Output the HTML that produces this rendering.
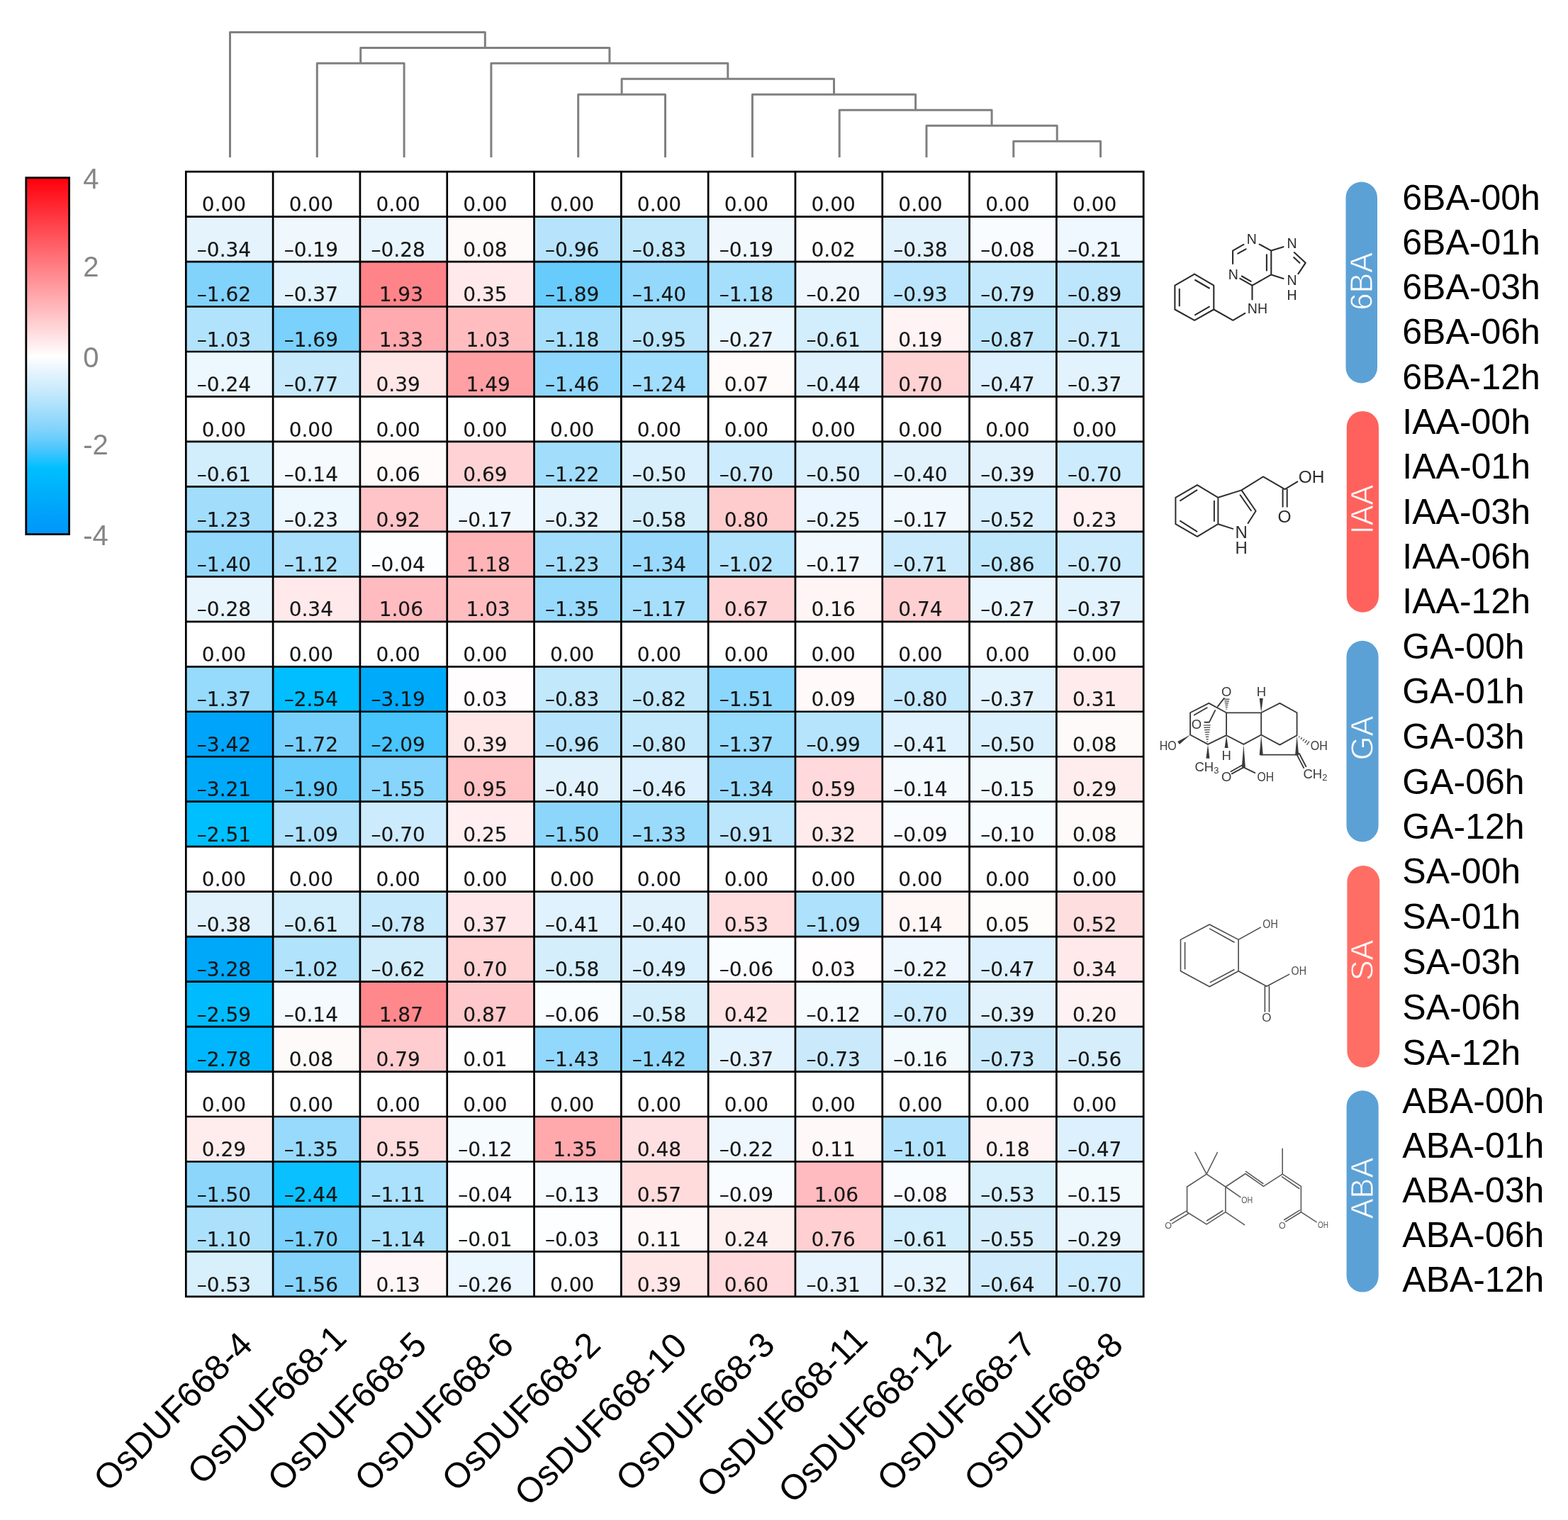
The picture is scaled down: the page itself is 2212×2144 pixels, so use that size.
<!DOCTYPE html><html><head><meta charset="utf-8"><title>OsDUF668 hormone heatmap</title>
<style>html,body{margin:0;padding:0;background:#fff}svg{display:block}.n{font-family:"DejaVu Sans",sans-serif;font-size:28px;fill:#151515;stroke:#151515;stroke-width:0.15px}.l{font-family:"Liberation Sans",Arial,sans-serif}</style></head><body>
<svg width="2212" height="2144" viewBox="0 0 2212 2144">
<rect width="2212" height="2144" fill="#fff"/>
<defs><linearGradient id="cb" gradientUnits="userSpaceOnUse" x1="0" y1="252" x2="0" y2="754.5">
<stop offset="0.0000" stop-color="#ff000c"/>
<stop offset="0.0312" stop-color="#ff101b"/>
<stop offset="0.0625" stop-color="#ff202a"/>
<stop offset="0.0938" stop-color="#ff303a"/>
<stop offset="0.1250" stop-color="#ff4049"/>
<stop offset="0.1562" stop-color="#ff5058"/>
<stop offset="0.1875" stop-color="#ff6067"/>
<stop offset="0.2188" stop-color="#ff7076"/>
<stop offset="0.2500" stop-color="#ff8086"/>
<stop offset="0.2812" stop-color="#ff8f95"/>
<stop offset="0.3125" stop-color="#ff9fa4"/>
<stop offset="0.3438" stop-color="#ffafb3"/>
<stop offset="0.3750" stop-color="#ffbfc2"/>
<stop offset="0.4062" stop-color="#ffcfd1"/>
<stop offset="0.4375" stop-color="#ffdfe1"/>
<stop offset="0.4688" stop-color="#ffeff0"/>
<stop offset="0.5000" stop-color="#ffffff"/>
<stop offset="0.5312" stop-color="#ecf6fe"/>
<stop offset="0.5625" stop-color="#daf0fd"/>
<stop offset="0.5938" stop-color="#c8eafc"/>
<stop offset="0.6250" stop-color="#b4e4fc"/>
<stop offset="0.6562" stop-color="#a0ddfc"/>
<stop offset="0.6875" stop-color="#8cd6fc"/>
<stop offset="0.7188" stop-color="#74d0fc"/>
<stop offset="0.7500" stop-color="#56c8fc"/>
<stop offset="0.7812" stop-color="#2cc3fd"/>
<stop offset="0.8125" stop-color="#00bfff"/>
<stop offset="0.8438" stop-color="#00b8fd"/>
<stop offset="0.8750" stop-color="#00b0fb"/>
<stop offset="0.9062" stop-color="#00a9fa"/>
<stop offset="0.9375" stop-color="#00a2fa"/>
<stop offset="0.9688" stop-color="#009cfa"/>
<stop offset="1.0000" stop-color="#0096fa"/>
</linearGradient></defs>
<rect x="36.8" y="250.7" width="60.8" height="502.9" fill="url(#cb)" stroke="#000" stroke-width="2.8"/>
<text class="l" x="117.3" y="266.4" font-size="40" fill="#858585">4</text>
<text class="l" x="117.3" y="389.9" font-size="40" fill="#858585">2</text>
<text class="l" x="117.3" y="517.6" font-size="40" fill="#858585">0</text>
<text class="l" x="117.3" y="641.2" font-size="40" fill="#858585">-2</text>
<text class="l" x="117.3" y="768.9" font-size="40" fill="#858585">-4</text>
<path d="M1429.8 222.0V199.2H1552.6V222.0M1307.0 222.0V177.2H1491.2V199.2M1184.2 222.0V155.2H1399.1V177.2M1061.4 222.0V133.3H1291.6V155.2M815.7 222.0V133.3H938.5V222.0M877.1 133.3V111.3H1176.5V133.3M692.9 222.0V89.3H1026.8V111.3M447.3 222.0V89.3H570.1V222.0M508.7 89.3V67.4H859.9V89.3M324.5 222.0V45.4H684.3V67.4" fill="none" stroke="#808080" stroke-width="3" stroke-linejoin="round" stroke-linecap="butt"/>
<g>
<rect x="262.30" y="242.10" width="123.11" height="63.77" fill="#ffffff"/>
<rect x="385.11" y="242.10" width="123.11" height="63.77" fill="#ffffff"/>
<rect x="507.92" y="242.10" width="123.11" height="63.77" fill="#ffffff"/>
<rect x="630.73" y="242.10" width="123.11" height="63.77" fill="#ffffff"/>
<rect x="753.54" y="242.10" width="123.11" height="63.77" fill="#ffffff"/>
<rect x="876.35" y="242.10" width="123.11" height="63.77" fill="#ffffff"/>
<rect x="999.15" y="242.10" width="123.11" height="63.77" fill="#ffffff"/>
<rect x="1121.96" y="242.10" width="123.11" height="63.77" fill="#ffffff"/>
<rect x="1244.77" y="242.10" width="123.11" height="63.77" fill="#ffffff"/>
<rect x="1367.58" y="242.10" width="123.11" height="63.77" fill="#ffffff"/>
<rect x="1490.39" y="242.10" width="123.11" height="63.77" fill="#ffffff"/>
<rect x="262.30" y="305.57" width="123.11" height="63.77" fill="#e5f3fd"/>
<rect x="385.11" y="305.57" width="123.11" height="63.77" fill="#f0f8fe"/>
<rect x="507.92" y="305.57" width="123.11" height="63.77" fill="#e9f5fd"/>
<rect x="630.73" y="305.57" width="123.11" height="63.77" fill="#fffafa"/>
<rect x="753.54" y="305.57" width="123.11" height="63.77" fill="#b7e4fc"/>
<rect x="876.35" y="305.57" width="123.11" height="63.77" fill="#c2e8fc"/>
<rect x="999.15" y="305.57" width="123.11" height="63.77" fill="#f0f8fe"/>
<rect x="1121.96" y="305.57" width="123.11" height="63.77" fill="#fffefe"/>
<rect x="1244.77" y="305.57" width="123.11" height="63.77" fill="#e2f2fd"/>
<rect x="1367.58" y="305.57" width="123.11" height="63.77" fill="#f9fcff"/>
<rect x="1490.39" y="305.57" width="123.11" height="63.77" fill="#eff8fe"/>
<rect x="262.30" y="369.04" width="123.11" height="63.77" fill="#81d3fc"/>
<rect x="385.11" y="369.04" width="123.11" height="63.77" fill="#e3f3fd"/>
<rect x="507.92" y="369.04" width="123.11" height="63.77" fill="#ff848a"/>
<rect x="630.73" y="369.04" width="123.11" height="63.77" fill="#ffe9ea"/>
<rect x="753.54" y="369.04" width="123.11" height="63.77" fill="#67ccfc"/>
<rect x="876.35" y="369.04" width="123.11" height="63.77" fill="#94d9fc"/>
<rect x="999.15" y="369.04" width="123.11" height="63.77" fill="#a6dffc"/>
<rect x="1121.96" y="369.04" width="123.11" height="63.77" fill="#f0f8fe"/>
<rect x="1244.77" y="369.04" width="123.11" height="63.77" fill="#bae5fc"/>
<rect x="1367.58" y="369.04" width="123.11" height="63.77" fill="#c5e9fc"/>
<rect x="1490.39" y="369.04" width="123.11" height="63.77" fill="#bde6fc"/>
<rect x="262.30" y="432.52" width="123.11" height="63.77" fill="#b2e3fc"/>
<rect x="385.11" y="432.52" width="123.11" height="63.77" fill="#7ad1fc"/>
<rect x="507.92" y="432.52" width="123.11" height="63.77" fill="#ffaaae"/>
<rect x="630.73" y="432.52" width="123.11" height="63.77" fill="#ffbdc0"/>
<rect x="753.54" y="432.52" width="123.11" height="63.77" fill="#a6dffc"/>
<rect x="876.35" y="432.52" width="123.11" height="63.77" fill="#b8e5fc"/>
<rect x="999.15" y="432.52" width="123.11" height="63.77" fill="#eaf6fd"/>
<rect x="1121.96" y="432.52" width="123.11" height="63.77" fill="#d2edfc"/>
<rect x="1244.77" y="432.52" width="123.11" height="63.77" fill="#fff3f3"/>
<rect x="1367.58" y="432.52" width="123.11" height="63.77" fill="#bee7fc"/>
<rect x="1490.39" y="432.52" width="123.11" height="63.77" fill="#cbebfc"/>
<rect x="262.30" y="495.99" width="123.11" height="63.77" fill="#ecf7fe"/>
<rect x="385.11" y="495.99" width="123.11" height="63.77" fill="#c6e9fc"/>
<rect x="507.92" y="495.99" width="123.11" height="63.77" fill="#ffe6e7"/>
<rect x="630.73" y="495.99" width="123.11" height="63.77" fill="#ffa0a4"/>
<rect x="753.54" y="495.99" width="123.11" height="63.77" fill="#8fd7fc"/>
<rect x="876.35" y="495.99" width="123.11" height="63.77" fill="#a1ddfc"/>
<rect x="999.15" y="495.99" width="123.11" height="63.77" fill="#fffbfb"/>
<rect x="1121.96" y="495.99" width="123.11" height="63.77" fill="#def1fd"/>
<rect x="1244.77" y="495.99" width="123.11" height="63.77" fill="#ffd2d4"/>
<rect x="1367.58" y="495.99" width="123.11" height="63.77" fill="#dcf0fd"/>
<rect x="1490.39" y="495.99" width="123.11" height="63.77" fill="#e3f3fd"/>
<rect x="262.30" y="559.46" width="123.11" height="63.77" fill="#ffffff"/>
<rect x="385.11" y="559.46" width="123.11" height="63.77" fill="#ffffff"/>
<rect x="507.92" y="559.46" width="123.11" height="63.77" fill="#ffffff"/>
<rect x="630.73" y="559.46" width="123.11" height="63.77" fill="#ffffff"/>
<rect x="753.54" y="559.46" width="123.11" height="63.77" fill="#ffffff"/>
<rect x="876.35" y="559.46" width="123.11" height="63.77" fill="#ffffff"/>
<rect x="999.15" y="559.46" width="123.11" height="63.77" fill="#ffffff"/>
<rect x="1121.96" y="559.46" width="123.11" height="63.77" fill="#ffffff"/>
<rect x="1244.77" y="559.46" width="123.11" height="63.77" fill="#ffffff"/>
<rect x="1367.58" y="559.46" width="123.11" height="63.77" fill="#ffffff"/>
<rect x="1490.39" y="559.46" width="123.11" height="63.77" fill="#ffffff"/>
<rect x="262.30" y="622.93" width="123.11" height="63.77" fill="#d2edfc"/>
<rect x="385.11" y="622.93" width="123.11" height="63.77" fill="#f4fafe"/>
<rect x="507.92" y="622.93" width="123.11" height="63.77" fill="#fffbfb"/>
<rect x="630.73" y="622.93" width="123.11" height="63.77" fill="#ffd3d5"/>
<rect x="753.54" y="622.93" width="123.11" height="63.77" fill="#a2defc"/>
<rect x="876.35" y="622.93" width="123.11" height="63.77" fill="#daf0fd"/>
<rect x="999.15" y="622.93" width="123.11" height="63.77" fill="#ccebfc"/>
<rect x="1121.96" y="622.93" width="123.11" height="63.77" fill="#daf0fd"/>
<rect x="1244.77" y="622.93" width="123.11" height="63.77" fill="#e1f2fd"/>
<rect x="1367.58" y="622.93" width="123.11" height="63.77" fill="#e1f2fd"/>
<rect x="1490.39" y="622.93" width="123.11" height="63.77" fill="#ccebfc"/>
<rect x="262.30" y="686.40" width="123.11" height="63.77" fill="#a2ddfc"/>
<rect x="385.11" y="686.40" width="123.11" height="63.77" fill="#edf7fe"/>
<rect x="507.92" y="686.40" width="123.11" height="63.77" fill="#ffc4c7"/>
<rect x="630.73" y="686.40" width="123.11" height="63.77" fill="#f2f9fe"/>
<rect x="753.54" y="686.40" width="123.11" height="63.77" fill="#e6f4fd"/>
<rect x="876.35" y="686.40" width="123.11" height="63.77" fill="#d4eefc"/>
<rect x="999.15" y="686.40" width="123.11" height="63.77" fill="#ffccce"/>
<rect x="1121.96" y="686.40" width="123.11" height="63.77" fill="#ecf6fe"/>
<rect x="1244.77" y="686.40" width="123.11" height="63.77" fill="#f2f9fe"/>
<rect x="1367.58" y="686.40" width="123.11" height="63.77" fill="#d8effd"/>
<rect x="1490.39" y="686.40" width="123.11" height="63.77" fill="#fff0f1"/>
<rect x="262.30" y="749.88" width="123.11" height="63.77" fill="#94d9fc"/>
<rect x="385.11" y="749.88" width="123.11" height="63.77" fill="#aae0fc"/>
<rect x="507.92" y="749.88" width="123.11" height="63.77" fill="#fcfeff"/>
<rect x="630.73" y="749.88" width="123.11" height="63.77" fill="#ffb4b7"/>
<rect x="753.54" y="749.88" width="123.11" height="63.77" fill="#a2ddfc"/>
<rect x="876.35" y="749.88" width="123.11" height="63.77" fill="#99dafc"/>
<rect x="999.15" y="749.88" width="123.11" height="63.77" fill="#b2e3fc"/>
<rect x="1121.96" y="749.88" width="123.11" height="63.77" fill="#f2f9fe"/>
<rect x="1244.77" y="749.88" width="123.11" height="63.77" fill="#cbebfc"/>
<rect x="1367.58" y="749.88" width="123.11" height="63.77" fill="#bfe7fc"/>
<rect x="1490.39" y="749.88" width="123.11" height="63.77" fill="#ccebfc"/>
<rect x="262.30" y="813.35" width="123.11" height="63.77" fill="#e9f5fd"/>
<rect x="385.11" y="813.35" width="123.11" height="63.77" fill="#ffe9ea"/>
<rect x="507.92" y="813.35" width="123.11" height="63.77" fill="#ffbbbf"/>
<rect x="630.73" y="813.35" width="123.11" height="63.77" fill="#ffbdc0"/>
<rect x="753.54" y="813.35" width="123.11" height="63.77" fill="#98dafc"/>
<rect x="876.35" y="813.35" width="123.11" height="63.77" fill="#a6dffc"/>
<rect x="999.15" y="813.35" width="123.11" height="63.77" fill="#ffd4d6"/>
<rect x="1121.96" y="813.35" width="123.11" height="63.77" fill="#fff5f5"/>
<rect x="1244.77" y="813.35" width="123.11" height="63.77" fill="#ffd0d2"/>
<rect x="1367.58" y="813.35" width="123.11" height="63.77" fill="#eaf6fd"/>
<rect x="1490.39" y="813.35" width="123.11" height="63.77" fill="#e3f3fd"/>
<rect x="262.30" y="876.82" width="123.11" height="63.77" fill="#ffffff"/>
<rect x="385.11" y="876.82" width="123.11" height="63.77" fill="#ffffff"/>
<rect x="507.92" y="876.82" width="123.11" height="63.77" fill="#ffffff"/>
<rect x="630.73" y="876.82" width="123.11" height="63.77" fill="#ffffff"/>
<rect x="753.54" y="876.82" width="123.11" height="63.77" fill="#ffffff"/>
<rect x="876.35" y="876.82" width="123.11" height="63.77" fill="#ffffff"/>
<rect x="999.15" y="876.82" width="123.11" height="63.77" fill="#ffffff"/>
<rect x="1121.96" y="876.82" width="123.11" height="63.77" fill="#ffffff"/>
<rect x="1244.77" y="876.82" width="123.11" height="63.77" fill="#ffffff"/>
<rect x="1367.58" y="876.82" width="123.11" height="63.77" fill="#ffffff"/>
<rect x="1490.39" y="876.82" width="123.11" height="63.77" fill="#ffffff"/>
<rect x="262.30" y="940.29" width="123.11" height="63.77" fill="#96dafc"/>
<rect x="385.11" y="940.29" width="123.11" height="63.77" fill="#00beff"/>
<rect x="507.92" y="940.29" width="123.11" height="63.77" fill="#00aafa"/>
<rect x="630.73" y="940.29" width="123.11" height="63.77" fill="#fffdfd"/>
<rect x="753.54" y="940.29" width="123.11" height="63.77" fill="#c2e8fc"/>
<rect x="876.35" y="940.29" width="123.11" height="63.77" fill="#c2e8fc"/>
<rect x="999.15" y="940.29" width="123.11" height="63.77" fill="#8bd6fc"/>
<rect x="1121.96" y="940.29" width="123.11" height="63.77" fill="#fff9fa"/>
<rect x="1244.77" y="940.29" width="123.11" height="63.77" fill="#c4e8fc"/>
<rect x="1367.58" y="940.29" width="123.11" height="63.77" fill="#e3f3fd"/>
<rect x="1490.39" y="940.29" width="123.11" height="63.77" fill="#ffebec"/>
<rect x="262.30" y="1003.76" width="123.11" height="63.77" fill="#00a4fa"/>
<rect x="385.11" y="1003.76" width="123.11" height="63.77" fill="#77d0fc"/>
<rect x="507.92" y="1003.76" width="123.11" height="63.77" fill="#48c5fc"/>
<rect x="630.73" y="1003.76" width="123.11" height="63.77" fill="#ffe6e7"/>
<rect x="753.54" y="1003.76" width="123.11" height="63.77" fill="#b7e4fc"/>
<rect x="876.35" y="1003.76" width="123.11" height="63.77" fill="#c4e8fc"/>
<rect x="999.15" y="1003.76" width="123.11" height="63.77" fill="#96dafc"/>
<rect x="1121.96" y="1003.76" width="123.11" height="63.77" fill="#b5e4fc"/>
<rect x="1244.77" y="1003.76" width="123.11" height="63.77" fill="#e0f2fd"/>
<rect x="1367.58" y="1003.76" width="123.11" height="63.77" fill="#daf0fd"/>
<rect x="1490.39" y="1003.76" width="123.11" height="63.77" fill="#fffafa"/>
<rect x="262.30" y="1067.24" width="123.11" height="63.77" fill="#00aafa"/>
<rect x="385.11" y="1067.24" width="123.11" height="63.77" fill="#66ccfc"/>
<rect x="507.92" y="1067.24" width="123.11" height="63.77" fill="#87d5fc"/>
<rect x="630.73" y="1067.24" width="123.11" height="63.77" fill="#ffc2c5"/>
<rect x="753.54" y="1067.24" width="123.11" height="63.77" fill="#e1f2fd"/>
<rect x="876.35" y="1067.24" width="123.11" height="63.77" fill="#dcf0fd"/>
<rect x="999.15" y="1067.24" width="123.11" height="63.77" fill="#99dafc"/>
<rect x="1121.96" y="1067.24" width="123.11" height="63.77" fill="#ffd9db"/>
<rect x="1244.77" y="1067.24" width="123.11" height="63.77" fill="#f4fafe"/>
<rect x="1367.58" y="1067.24" width="123.11" height="63.77" fill="#f3fafe"/>
<rect x="1490.39" y="1067.24" width="123.11" height="63.77" fill="#ffeded"/>
<rect x="262.30" y="1130.71" width="123.11" height="63.77" fill="#00bfff"/>
<rect x="385.11" y="1130.71" width="123.11" height="63.77" fill="#ade1fc"/>
<rect x="507.92" y="1130.71" width="123.11" height="63.77" fill="#ccebfc"/>
<rect x="630.73" y="1130.71" width="123.11" height="63.77" fill="#ffeff0"/>
<rect x="753.54" y="1130.71" width="123.11" height="63.77" fill="#8cd6fc"/>
<rect x="876.35" y="1130.71" width="123.11" height="63.77" fill="#9adbfc"/>
<rect x="999.15" y="1130.71" width="123.11" height="63.77" fill="#bbe6fc"/>
<rect x="1121.96" y="1130.71" width="123.11" height="63.77" fill="#ffebec"/>
<rect x="1244.77" y="1130.71" width="123.11" height="63.77" fill="#f8fcfe"/>
<rect x="1367.58" y="1130.71" width="123.11" height="63.77" fill="#f7fcfe"/>
<rect x="1490.39" y="1130.71" width="123.11" height="63.77" fill="#fffafa"/>
<rect x="262.30" y="1194.18" width="123.11" height="63.77" fill="#ffffff"/>
<rect x="385.11" y="1194.18" width="123.11" height="63.77" fill="#ffffff"/>
<rect x="507.92" y="1194.18" width="123.11" height="63.77" fill="#ffffff"/>
<rect x="630.73" y="1194.18" width="123.11" height="63.77" fill="#ffffff"/>
<rect x="753.54" y="1194.18" width="123.11" height="63.77" fill="#ffffff"/>
<rect x="876.35" y="1194.18" width="123.11" height="63.77" fill="#ffffff"/>
<rect x="999.15" y="1194.18" width="123.11" height="63.77" fill="#ffffff"/>
<rect x="1121.96" y="1194.18" width="123.11" height="63.77" fill="#ffffff"/>
<rect x="1244.77" y="1194.18" width="123.11" height="63.77" fill="#ffffff"/>
<rect x="1367.58" y="1194.18" width="123.11" height="63.77" fill="#ffffff"/>
<rect x="1490.39" y="1194.18" width="123.11" height="63.77" fill="#ffffff"/>
<rect x="262.30" y="1257.65" width="123.11" height="63.77" fill="#e2f2fd"/>
<rect x="385.11" y="1257.65" width="123.11" height="63.77" fill="#d2edfc"/>
<rect x="507.92" y="1257.65" width="123.11" height="63.77" fill="#c6e9fc"/>
<rect x="630.73" y="1257.65" width="123.11" height="63.77" fill="#ffe7e9"/>
<rect x="753.54" y="1257.65" width="123.11" height="63.77" fill="#e0f2fd"/>
<rect x="876.35" y="1257.65" width="123.11" height="63.77" fill="#e1f2fd"/>
<rect x="999.15" y="1257.65" width="123.11" height="63.77" fill="#ffdddf"/>
<rect x="1121.96" y="1257.65" width="123.11" height="63.77" fill="#ade1fc"/>
<rect x="1244.77" y="1257.65" width="123.11" height="63.77" fill="#fff6f6"/>
<rect x="1367.58" y="1257.65" width="123.11" height="63.77" fill="#fffcfc"/>
<rect x="1490.39" y="1257.65" width="123.11" height="63.77" fill="#ffdedf"/>
<rect x="262.30" y="1321.12" width="123.11" height="63.77" fill="#00a8fa"/>
<rect x="385.11" y="1321.12" width="123.11" height="63.77" fill="#b2e3fc"/>
<rect x="507.92" y="1321.12" width="123.11" height="63.77" fill="#d1edfc"/>
<rect x="630.73" y="1321.12" width="123.11" height="63.77" fill="#ffd2d4"/>
<rect x="753.54" y="1321.12" width="123.11" height="63.77" fill="#d4eefc"/>
<rect x="876.35" y="1321.12" width="123.11" height="63.77" fill="#daf0fd"/>
<rect x="999.15" y="1321.12" width="123.11" height="63.77" fill="#fafdff"/>
<rect x="1121.96" y="1321.12" width="123.11" height="63.77" fill="#fffdfd"/>
<rect x="1244.77" y="1321.12" width="123.11" height="63.77" fill="#eef7fe"/>
<rect x="1367.58" y="1321.12" width="123.11" height="63.77" fill="#dcf0fd"/>
<rect x="1490.39" y="1321.12" width="123.11" height="63.77" fill="#ffe9ea"/>
<rect x="262.30" y="1384.60" width="123.11" height="63.77" fill="#00bcfe"/>
<rect x="385.11" y="1384.60" width="123.11" height="63.77" fill="#f4fafe"/>
<rect x="507.92" y="1384.60" width="123.11" height="63.77" fill="#ff888d"/>
<rect x="630.73" y="1384.60" width="123.11" height="63.77" fill="#ffc8ca"/>
<rect x="753.54" y="1384.60" width="123.11" height="63.77" fill="#fafdff"/>
<rect x="876.35" y="1384.60" width="123.11" height="63.77" fill="#d4eefc"/>
<rect x="999.15" y="1384.60" width="123.11" height="63.77" fill="#ffe4e5"/>
<rect x="1121.96" y="1384.60" width="123.11" height="63.77" fill="#f6fbfe"/>
<rect x="1244.77" y="1384.60" width="123.11" height="63.77" fill="#ccebfc"/>
<rect x="1367.58" y="1384.60" width="123.11" height="63.77" fill="#e1f2fd"/>
<rect x="1490.39" y="1384.60" width="123.11" height="63.77" fill="#fff2f3"/>
<rect x="262.30" y="1448.07" width="123.11" height="63.77" fill="#00b7fd"/>
<rect x="385.11" y="1448.07" width="123.11" height="63.77" fill="#fffafa"/>
<rect x="507.92" y="1448.07" width="123.11" height="63.77" fill="#ffcdcf"/>
<rect x="630.73" y="1448.07" width="123.11" height="63.77" fill="#fffefe"/>
<rect x="753.54" y="1448.07" width="123.11" height="63.77" fill="#92d8fc"/>
<rect x="876.35" y="1448.07" width="123.11" height="63.77" fill="#92d8fc"/>
<rect x="999.15" y="1448.07" width="123.11" height="63.77" fill="#e3f3fd"/>
<rect x="1121.96" y="1448.07" width="123.11" height="63.77" fill="#caeafc"/>
<rect x="1244.77" y="1448.07" width="123.11" height="63.77" fill="#f3fafe"/>
<rect x="1367.58" y="1448.07" width="123.11" height="63.77" fill="#caeafc"/>
<rect x="1490.39" y="1448.07" width="123.11" height="63.77" fill="#d6eefc"/>
<rect x="262.30" y="1511.54" width="123.11" height="63.77" fill="#ffffff"/>
<rect x="385.11" y="1511.54" width="123.11" height="63.77" fill="#ffffff"/>
<rect x="507.92" y="1511.54" width="123.11" height="63.77" fill="#ffffff"/>
<rect x="630.73" y="1511.54" width="123.11" height="63.77" fill="#ffffff"/>
<rect x="753.54" y="1511.54" width="123.11" height="63.77" fill="#ffffff"/>
<rect x="876.35" y="1511.54" width="123.11" height="63.77" fill="#ffffff"/>
<rect x="999.15" y="1511.54" width="123.11" height="63.77" fill="#ffffff"/>
<rect x="1121.96" y="1511.54" width="123.11" height="63.77" fill="#ffffff"/>
<rect x="1244.77" y="1511.54" width="123.11" height="63.77" fill="#ffffff"/>
<rect x="1367.58" y="1511.54" width="123.11" height="63.77" fill="#ffffff"/>
<rect x="1490.39" y="1511.54" width="123.11" height="63.77" fill="#ffffff"/>
<rect x="262.30" y="1575.01" width="123.11" height="63.77" fill="#ffeded"/>
<rect x="385.11" y="1575.01" width="123.11" height="63.77" fill="#98dafc"/>
<rect x="507.92" y="1575.01" width="123.11" height="63.77" fill="#ffdcde"/>
<rect x="630.73" y="1575.01" width="123.11" height="63.77" fill="#f6fbfe"/>
<rect x="753.54" y="1575.01" width="123.11" height="63.77" fill="#ffa9ad"/>
<rect x="876.35" y="1575.01" width="123.11" height="63.77" fill="#ffe0e2"/>
<rect x="999.15" y="1575.01" width="123.11" height="63.77" fill="#eef7fe"/>
<rect x="1121.96" y="1575.01" width="123.11" height="63.77" fill="#fff8f8"/>
<rect x="1244.77" y="1575.01" width="123.11" height="63.77" fill="#b3e3fc"/>
<rect x="1367.58" y="1575.01" width="123.11" height="63.77" fill="#fff4f4"/>
<rect x="1490.39" y="1575.01" width="123.11" height="63.77" fill="#dcf0fd"/>
<rect x="262.30" y="1638.48" width="123.11" height="63.77" fill="#8cd6fc"/>
<rect x="385.11" y="1638.48" width="123.11" height="63.77" fill="#0bc0ff"/>
<rect x="507.92" y="1638.48" width="123.11" height="63.77" fill="#abe1fc"/>
<rect x="630.73" y="1638.48" width="123.11" height="63.77" fill="#fcfeff"/>
<rect x="753.54" y="1638.48" width="123.11" height="63.77" fill="#f5fbfe"/>
<rect x="876.35" y="1638.48" width="123.11" height="63.77" fill="#ffdbdc"/>
<rect x="999.15" y="1638.48" width="123.11" height="63.77" fill="#f8fcfe"/>
<rect x="1121.96" y="1638.48" width="123.11" height="63.77" fill="#ffbbbf"/>
<rect x="1244.77" y="1638.48" width="123.11" height="63.77" fill="#f9fcff"/>
<rect x="1367.58" y="1638.48" width="123.11" height="63.77" fill="#d8effc"/>
<rect x="1490.39" y="1638.48" width="123.11" height="63.77" fill="#f3fafe"/>
<rect x="262.30" y="1701.96" width="123.11" height="63.77" fill="#ace1fc"/>
<rect x="385.11" y="1701.96" width="123.11" height="63.77" fill="#79d1fc"/>
<rect x="507.92" y="1701.96" width="123.11" height="63.77" fill="#a9e0fc"/>
<rect x="630.73" y="1701.96" width="123.11" height="63.77" fill="#feffff"/>
<rect x="753.54" y="1701.96" width="123.11" height="63.77" fill="#fdfeff"/>
<rect x="876.35" y="1701.96" width="123.11" height="63.77" fill="#fff8f8"/>
<rect x="999.15" y="1701.96" width="123.11" height="63.77" fill="#fff0f0"/>
<rect x="1121.96" y="1701.96" width="123.11" height="63.77" fill="#ffcfd1"/>
<rect x="1244.77" y="1701.96" width="123.11" height="63.77" fill="#d2edfc"/>
<rect x="1367.58" y="1701.96" width="123.11" height="63.77" fill="#d6eefc"/>
<rect x="1490.39" y="1701.96" width="123.11" height="63.77" fill="#e9f5fd"/>
<rect x="262.30" y="1765.43" width="123.11" height="63.77" fill="#d8effc"/>
<rect x="385.11" y="1765.43" width="123.11" height="63.77" fill="#86d4fc"/>
<rect x="507.92" y="1765.43" width="123.11" height="63.77" fill="#fff7f7"/>
<rect x="630.73" y="1765.43" width="123.11" height="63.77" fill="#ebf6fe"/>
<rect x="753.54" y="1765.43" width="123.11" height="63.77" fill="#ffffff"/>
<rect x="876.35" y="1765.43" width="123.11" height="63.77" fill="#ffe6e7"/>
<rect x="999.15" y="1765.43" width="123.11" height="63.77" fill="#ffd9db"/>
<rect x="1121.96" y="1765.43" width="123.11" height="63.77" fill="#e7f4fd"/>
<rect x="1244.77" y="1765.43" width="123.11" height="63.77" fill="#e6f4fd"/>
<rect x="1367.58" y="1765.43" width="123.11" height="63.77" fill="#d0ecfc"/>
<rect x="1490.39" y="1765.43" width="123.11" height="63.77" fill="#ccebfc"/>
</g><g class="n" text-anchor="middle">
<text x="316.0" y="298.2">0.00</text>
<text x="438.8" y="298.2">0.00</text>
<text x="561.6" y="298.2">0.00</text>
<text x="684.4" y="298.2">0.00</text>
<text x="807.2" y="298.2">0.00</text>
<text x="930.0" y="298.2">0.00</text>
<text x="1052.9" y="298.2">0.00</text>
<text x="1175.7" y="298.2">0.00</text>
<text x="1298.5" y="298.2">0.00</text>
<text x="1421.3" y="298.2">0.00</text>
<text x="1544.1" y="298.2">0.00</text>
<text x="316.0" y="361.6">–0.34</text>
<text x="438.8" y="361.6">–0.19</text>
<text x="561.6" y="361.6">–0.28</text>
<text x="684.4" y="361.6">0.08</text>
<text x="807.2" y="361.6">–0.96</text>
<text x="930.0" y="361.6">–0.83</text>
<text x="1052.9" y="361.6">–0.19</text>
<text x="1175.7" y="361.6">0.02</text>
<text x="1298.5" y="361.6">–0.38</text>
<text x="1421.3" y="361.6">–0.08</text>
<text x="1544.1" y="361.6">–0.21</text>
<text x="316.0" y="425.1">–1.62</text>
<text x="438.8" y="425.1">–0.37</text>
<text x="565.8" y="425.1">1.93</text>
<text x="684.4" y="425.1">0.35</text>
<text x="807.2" y="425.1">–1.89</text>
<text x="930.0" y="425.1">–1.40</text>
<text x="1052.9" y="425.1">–1.18</text>
<text x="1175.7" y="425.1">–0.20</text>
<text x="1298.5" y="425.1">–0.93</text>
<text x="1421.3" y="425.1">–0.79</text>
<text x="1544.1" y="425.1">–0.89</text>
<text x="316.0" y="488.6">–1.03</text>
<text x="438.8" y="488.6">–1.69</text>
<text x="565.8" y="488.6">1.33</text>
<text x="688.6" y="488.6">1.03</text>
<text x="807.2" y="488.6">–1.18</text>
<text x="930.0" y="488.6">–0.95</text>
<text x="1052.9" y="488.6">–0.27</text>
<text x="1175.7" y="488.6">–0.61</text>
<text x="1298.5" y="488.6">0.19</text>
<text x="1421.3" y="488.6">–0.87</text>
<text x="1544.1" y="488.6">–0.71</text>
<text x="316.0" y="552.1">–0.24</text>
<text x="438.8" y="552.1">–0.77</text>
<text x="561.6" y="552.1">0.39</text>
<text x="688.6" y="552.1">1.49</text>
<text x="807.2" y="552.1">–1.46</text>
<text x="930.0" y="552.1">–1.24</text>
<text x="1052.9" y="552.1">0.07</text>
<text x="1175.7" y="552.1">–0.44</text>
<text x="1298.5" y="552.1">0.70</text>
<text x="1421.3" y="552.1">–0.47</text>
<text x="1544.1" y="552.1">–0.37</text>
<text x="316.0" y="615.5">0.00</text>
<text x="438.8" y="615.5">0.00</text>
<text x="561.6" y="615.5">0.00</text>
<text x="684.4" y="615.5">0.00</text>
<text x="807.2" y="615.5">0.00</text>
<text x="930.0" y="615.5">0.00</text>
<text x="1052.9" y="615.5">0.00</text>
<text x="1175.7" y="615.5">0.00</text>
<text x="1298.5" y="615.5">0.00</text>
<text x="1421.3" y="615.5">0.00</text>
<text x="1544.1" y="615.5">0.00</text>
<text x="316.0" y="679.0">–0.61</text>
<text x="438.8" y="679.0">–0.14</text>
<text x="561.6" y="679.0">0.06</text>
<text x="684.4" y="679.0">0.69</text>
<text x="807.2" y="679.0">–1.22</text>
<text x="930.0" y="679.0">–0.50</text>
<text x="1052.9" y="679.0">–0.70</text>
<text x="1175.7" y="679.0">–0.50</text>
<text x="1298.5" y="679.0">–0.40</text>
<text x="1421.3" y="679.0">–0.39</text>
<text x="1544.1" y="679.0">–0.70</text>
<text x="316.0" y="742.5">–1.23</text>
<text x="438.8" y="742.5">–0.23</text>
<text x="561.6" y="742.5">0.92</text>
<text x="684.4" y="742.5">–0.17</text>
<text x="807.2" y="742.5">–0.32</text>
<text x="930.0" y="742.5">–0.58</text>
<text x="1052.9" y="742.5">0.80</text>
<text x="1175.7" y="742.5">–0.25</text>
<text x="1298.5" y="742.5">–0.17</text>
<text x="1421.3" y="742.5">–0.52</text>
<text x="1544.1" y="742.5">0.23</text>
<text x="316.0" y="805.9">–1.40</text>
<text x="438.8" y="805.9">–1.12</text>
<text x="561.6" y="805.9">–0.04</text>
<text x="688.6" y="805.9">1.18</text>
<text x="807.2" y="805.9">–1.23</text>
<text x="930.0" y="805.9">–1.34</text>
<text x="1052.9" y="805.9">–1.02</text>
<text x="1175.7" y="805.9">–0.17</text>
<text x="1298.5" y="805.9">–0.71</text>
<text x="1421.3" y="805.9">–0.86</text>
<text x="1544.1" y="805.9">–0.70</text>
<text x="316.0" y="869.4">–0.28</text>
<text x="438.8" y="869.4">0.34</text>
<text x="565.8" y="869.4">1.06</text>
<text x="688.6" y="869.4">1.03</text>
<text x="807.2" y="869.4">–1.35</text>
<text x="930.0" y="869.4">–1.17</text>
<text x="1052.9" y="869.4">0.67</text>
<text x="1175.7" y="869.4">0.16</text>
<text x="1298.5" y="869.4">0.74</text>
<text x="1421.3" y="869.4">–0.27</text>
<text x="1544.1" y="869.4">–0.37</text>
<text x="316.0" y="932.9">0.00</text>
<text x="438.8" y="932.9">0.00</text>
<text x="561.6" y="932.9">0.00</text>
<text x="684.4" y="932.9">0.00</text>
<text x="807.2" y="932.9">0.00</text>
<text x="930.0" y="932.9">0.00</text>
<text x="1052.9" y="932.9">0.00</text>
<text x="1175.7" y="932.9">0.00</text>
<text x="1298.5" y="932.9">0.00</text>
<text x="1421.3" y="932.9">0.00</text>
<text x="1544.1" y="932.9">0.00</text>
<text x="316.0" y="996.4">–1.37</text>
<text x="438.8" y="996.4">–2.54</text>
<text x="561.6" y="996.4">–3.19</text>
<text x="684.4" y="996.4">0.03</text>
<text x="807.2" y="996.4">–0.83</text>
<text x="930.0" y="996.4">–0.82</text>
<text x="1052.9" y="996.4">–1.51</text>
<text x="1175.7" y="996.4">0.09</text>
<text x="1298.5" y="996.4">–0.80</text>
<text x="1421.3" y="996.4">–0.37</text>
<text x="1544.1" y="996.4">0.31</text>
<text x="316.0" y="1059.8">–3.42</text>
<text x="438.8" y="1059.8">–1.72</text>
<text x="561.6" y="1059.8">–2.09</text>
<text x="684.4" y="1059.8">0.39</text>
<text x="807.2" y="1059.8">–0.96</text>
<text x="930.0" y="1059.8">–0.80</text>
<text x="1052.9" y="1059.8">–1.37</text>
<text x="1175.7" y="1059.8">–0.99</text>
<text x="1298.5" y="1059.8">–0.41</text>
<text x="1421.3" y="1059.8">–0.50</text>
<text x="1544.1" y="1059.8">0.08</text>
<text x="316.0" y="1123.3">–3.21</text>
<text x="438.8" y="1123.3">–1.90</text>
<text x="561.6" y="1123.3">–1.55</text>
<text x="684.4" y="1123.3">0.95</text>
<text x="807.2" y="1123.3">–0.40</text>
<text x="930.0" y="1123.3">–0.46</text>
<text x="1052.9" y="1123.3">–1.34</text>
<text x="1175.7" y="1123.3">0.59</text>
<text x="1298.5" y="1123.3">–0.14</text>
<text x="1421.3" y="1123.3">–0.15</text>
<text x="1544.1" y="1123.3">0.29</text>
<text x="316.0" y="1186.8">–2.51</text>
<text x="438.8" y="1186.8">–1.09</text>
<text x="561.6" y="1186.8">–0.70</text>
<text x="684.4" y="1186.8">0.25</text>
<text x="807.2" y="1186.8">–1.50</text>
<text x="930.0" y="1186.8">–1.33</text>
<text x="1052.9" y="1186.8">–0.91</text>
<text x="1175.7" y="1186.8">0.32</text>
<text x="1298.5" y="1186.8">–0.09</text>
<text x="1421.3" y="1186.8">–0.10</text>
<text x="1544.1" y="1186.8">0.08</text>
<text x="316.0" y="1250.3">0.00</text>
<text x="438.8" y="1250.3">0.00</text>
<text x="561.6" y="1250.3">0.00</text>
<text x="684.4" y="1250.3">0.00</text>
<text x="807.2" y="1250.3">0.00</text>
<text x="930.0" y="1250.3">0.00</text>
<text x="1052.9" y="1250.3">0.00</text>
<text x="1175.7" y="1250.3">0.00</text>
<text x="1298.5" y="1250.3">0.00</text>
<text x="1421.3" y="1250.3">0.00</text>
<text x="1544.1" y="1250.3">0.00</text>
<text x="316.0" y="1313.7">–0.38</text>
<text x="438.8" y="1313.7">–0.61</text>
<text x="561.6" y="1313.7">–0.78</text>
<text x="684.4" y="1313.7">0.37</text>
<text x="807.2" y="1313.7">–0.41</text>
<text x="930.0" y="1313.7">–0.40</text>
<text x="1052.9" y="1313.7">0.53</text>
<text x="1175.7" y="1313.7">–1.09</text>
<text x="1298.5" y="1313.7">0.14</text>
<text x="1421.3" y="1313.7">0.05</text>
<text x="1544.1" y="1313.7">0.52</text>
<text x="316.0" y="1377.2">–3.28</text>
<text x="438.8" y="1377.2">–1.02</text>
<text x="561.6" y="1377.2">–0.62</text>
<text x="684.4" y="1377.2">0.70</text>
<text x="807.2" y="1377.2">–0.58</text>
<text x="930.0" y="1377.2">–0.49</text>
<text x="1052.9" y="1377.2">–0.06</text>
<text x="1175.7" y="1377.2">0.03</text>
<text x="1298.5" y="1377.2">–0.22</text>
<text x="1421.3" y="1377.2">–0.47</text>
<text x="1544.1" y="1377.2">0.34</text>
<text x="316.0" y="1440.7">–2.59</text>
<text x="438.8" y="1440.7">–0.14</text>
<text x="565.8" y="1440.7">1.87</text>
<text x="684.4" y="1440.7">0.87</text>
<text x="807.2" y="1440.7">–0.06</text>
<text x="930.0" y="1440.7">–0.58</text>
<text x="1052.9" y="1440.7">0.42</text>
<text x="1175.7" y="1440.7">–0.12</text>
<text x="1298.5" y="1440.7">–0.70</text>
<text x="1421.3" y="1440.7">–0.39</text>
<text x="1544.1" y="1440.7">0.20</text>
<text x="316.0" y="1504.1">–2.78</text>
<text x="438.8" y="1504.1">0.08</text>
<text x="561.6" y="1504.1">0.79</text>
<text x="684.4" y="1504.1">0.01</text>
<text x="807.2" y="1504.1">–1.43</text>
<text x="930.0" y="1504.1">–1.42</text>
<text x="1052.9" y="1504.1">–0.37</text>
<text x="1175.7" y="1504.1">–0.73</text>
<text x="1298.5" y="1504.1">–0.16</text>
<text x="1421.3" y="1504.1">–0.73</text>
<text x="1544.1" y="1504.1">–0.56</text>
<text x="316.0" y="1567.6">0.00</text>
<text x="438.8" y="1567.6">0.00</text>
<text x="561.6" y="1567.6">0.00</text>
<text x="684.4" y="1567.6">0.00</text>
<text x="807.2" y="1567.6">0.00</text>
<text x="930.0" y="1567.6">0.00</text>
<text x="1052.9" y="1567.6">0.00</text>
<text x="1175.7" y="1567.6">0.00</text>
<text x="1298.5" y="1567.6">0.00</text>
<text x="1421.3" y="1567.6">0.00</text>
<text x="1544.1" y="1567.6">0.00</text>
<text x="316.0" y="1631.1">0.29</text>
<text x="438.8" y="1631.1">–1.35</text>
<text x="561.6" y="1631.1">0.55</text>
<text x="684.4" y="1631.1">–0.12</text>
<text x="811.4" y="1631.1">1.35</text>
<text x="930.0" y="1631.1">0.48</text>
<text x="1052.9" y="1631.1">–0.22</text>
<text x="1175.7" y="1631.1">0.11</text>
<text x="1298.5" y="1631.1">–1.01</text>
<text x="1421.3" y="1631.1">0.18</text>
<text x="1544.1" y="1631.1">–0.47</text>
<text x="316.0" y="1694.6">–1.50</text>
<text x="438.8" y="1694.6">–2.44</text>
<text x="561.6" y="1694.6">–1.11</text>
<text x="684.4" y="1694.6">–0.04</text>
<text x="807.2" y="1694.6">–0.13</text>
<text x="930.0" y="1694.6">0.57</text>
<text x="1052.9" y="1694.6">–0.09</text>
<text x="1179.9" y="1694.6">1.06</text>
<text x="1298.5" y="1694.6">–0.08</text>
<text x="1421.3" y="1694.6">–0.53</text>
<text x="1544.1" y="1694.6">–0.15</text>
<text x="316.0" y="1758.0">–1.10</text>
<text x="438.8" y="1758.0">–1.70</text>
<text x="561.6" y="1758.0">–1.14</text>
<text x="684.4" y="1758.0">–0.01</text>
<text x="807.2" y="1758.0">–0.03</text>
<text x="930.0" y="1758.0">0.11</text>
<text x="1052.9" y="1758.0">0.24</text>
<text x="1175.7" y="1758.0">0.76</text>
<text x="1298.5" y="1758.0">–0.61</text>
<text x="1421.3" y="1758.0">–0.55</text>
<text x="1544.1" y="1758.0">–0.29</text>
<text x="316.0" y="1821.5">–0.53</text>
<text x="438.8" y="1821.5">–1.56</text>
<text x="561.6" y="1821.5">0.13</text>
<text x="684.4" y="1821.5">–0.26</text>
<text x="807.2" y="1821.5">0.00</text>
<text x="930.0" y="1821.5">0.39</text>
<text x="1052.9" y="1821.5">0.60</text>
<text x="1175.7" y="1821.5">–0.31</text>
<text x="1298.5" y="1821.5">–0.32</text>
<text x="1421.3" y="1821.5">–0.64</text>
<text x="1544.1" y="1821.5">–0.70</text>
</g>
<path d="M262.30 242.10V1828.90M385.11 242.10V1828.90M507.92 242.10V1828.90M630.73 242.10V1828.90M753.54 242.10V1828.90M876.35 242.10V1828.90M999.15 242.10V1828.90M1121.96 242.10V1828.90M1244.77 242.10V1828.90M1367.58 242.10V1828.90M1490.39 242.10V1828.90M1613.20 242.10V1828.90M262.30 242.10H1613.20M262.30 305.57H1613.20M262.30 369.04H1613.20M262.30 432.52H1613.20M262.30 495.99H1613.20M262.30 559.46H1613.20M262.30 622.93H1613.20M262.30 686.40H1613.20M262.30 749.88H1613.20M262.30 813.35H1613.20M262.30 876.82H1613.20M262.30 940.29H1613.20M262.30 1003.76H1613.20M262.30 1067.24H1613.20M262.30 1130.71H1613.20M262.30 1194.18H1613.20M262.30 1257.65H1613.20M262.30 1321.12H1613.20M262.30 1384.60H1613.20M262.30 1448.07H1613.20M262.30 1511.54H1613.20M262.30 1575.01H1613.20M262.30 1638.48H1613.20M262.30 1701.96H1613.20M262.30 1765.43H1613.20M262.30 1828.90H1613.20" stroke="#000" stroke-width="2.7" fill="none" stroke-linecap="square"/>
<rect x="1898.5" y="256.6" width="44.5" height="283.9" rx="22.25" ry="22.25" fill="#5ca1d6"/>
<text class="l" transform="translate(1935.6 396.8) rotate(-90) scale(0.962 1)" text-anchor="middle" font-size="44.9" fill="#fff" stroke="#5ca1d6" stroke-width="0.9">6BA</text>
<rect x="1899.8" y="579.9" width="45.2" height="283.8" rx="22.60" ry="22.60" fill="#ff625c"/>
<text class="l" transform="translate(1937.1 718.5) rotate(-90) scale(0.962 1)" text-anchor="middle" font-size="44.9" fill="#fff" stroke="#ff625c" stroke-width="0.9">IAA</text>
<rect x="1899.5" y="903.8" width="45.1" height="283.6" rx="22.55" ry="22.55" fill="#5ca1d6"/>
<text class="l" transform="translate(1937.1 1041.0) rotate(-90) scale(0.962 1)" text-anchor="middle" font-size="44.9" fill="#fff" stroke="#5ca1d6" stroke-width="0.9">GA</text>
<rect x="1900.4" y="1221.1" width="45.8" height="284.6" rx="22.90" ry="22.90" fill="#ff6e64"/>
<text class="l" transform="translate(1937.3 1354.4) rotate(-90) scale(0.962 1)" text-anchor="middle" font-size="44.9" fill="#fff" stroke="#ff6e64" stroke-width="0.9">SA</text>
<rect x="1899.6" y="1538.2" width="45.1" height="284.4" rx="22.55" ry="22.55" fill="#5ca1d6"/>
<text class="l" transform="translate(1937.1 1676.0) rotate(-90) scale(0.962 1)" text-anchor="middle" font-size="44.9" fill="#fff" stroke="#5ca1d6" stroke-width="0.9">ABA</text>
<text class="l" x="1978.3" y="296.0" font-size="50" fill="#000">6BA-00h</text>
<text class="l" x="1978.3" y="359.1" font-size="50" fill="#000">6BA-01h</text>
<text class="l" x="1978.3" y="422.3" font-size="50" fill="#000">6BA-03h</text>
<text class="l" x="1978.3" y="485.4" font-size="50" fill="#000">6BA-06h</text>
<text class="l" x="1978.3" y="548.6" font-size="50" fill="#000">6BA-12h</text>
<text class="l" x="1978.3" y="612.1" font-size="50" fill="#000">IAA-00h</text>
<text class="l" x="1978.3" y="675.4" font-size="50" fill="#000">IAA-01h</text>
<text class="l" x="1978.3" y="738.7" font-size="50" fill="#000">IAA-03h</text>
<text class="l" x="1978.3" y="802.0" font-size="50" fill="#000">IAA-06h</text>
<text class="l" x="1978.3" y="865.3" font-size="50" fill="#000">IAA-12h</text>
<text class="l" x="1978.3" y="928.6" font-size="50" fill="#000">GA-00h</text>
<text class="l" x="1978.3" y="992.3" font-size="50" fill="#000">GA-01h</text>
<text class="l" x="1978.3" y="1056.0" font-size="50" fill="#000">GA-03h</text>
<text class="l" x="1978.3" y="1119.7" font-size="50" fill="#000">GA-06h</text>
<text class="l" x="1978.3" y="1183.4" font-size="50" fill="#000">GA-12h</text>
<text class="l" x="1978.3" y="1246.4" font-size="50" fill="#000">SA-00h</text>
<text class="l" x="1978.3" y="1310.4" font-size="50" fill="#000">SA-01h</text>
<text class="l" x="1978.3" y="1374.3" font-size="50" fill="#000">SA-03h</text>
<text class="l" x="1978.3" y="1438.3" font-size="50" fill="#000">SA-06h</text>
<text class="l" x="1978.3" y="1502.3" font-size="50" fill="#000">SA-12h</text>
<text class="l" x="1978.3" y="1570.2" font-size="50" fill="#000">ABA-00h</text>
<text class="l" x="1978.3" y="1633.0" font-size="50" fill="#000">ABA-01h</text>
<text class="l" x="1978.3" y="1695.9" font-size="50" fill="#000">ABA-03h</text>
<text class="l" x="1978.3" y="1758.8" font-size="50" fill="#000">ABA-06h</text>
<text class="l" x="1978.3" y="1821.6" font-size="50" fill="#000">ABA-12h</text>
<text class="l" transform="translate(152.7 2106.0) rotate(-45)" font-size="49.5" fill="#000">OsDUF668-4</text>
<text class="l" transform="translate(285.2 2096.3) rotate(-45)" font-size="49.5" fill="#000">OsDUF668-1</text>
<text class="l" transform="translate(398.3 2106.0) rotate(-45)" font-size="49.5" fill="#000">OsDUF668-5</text>
<text class="l" transform="translate(521.1 2106.0) rotate(-45)" font-size="49.5" fill="#000">OsDUF668-6</text>
<text class="l" transform="translate(643.9 2106.0) rotate(-45)" font-size="49.5" fill="#000">OsDUF668-2</text>
<text class="l" transform="translate(746.4 2126.4) rotate(-45)" font-size="49.5" fill="#000">OsDUF668-10</text>
<text class="l" transform="translate(889.6 2106.0) rotate(-45)" font-size="49.5" fill="#000">OsDUF668-3</text>
<text class="l" transform="translate(1003.4 2115.0) rotate(-45)" font-size="49.5" fill="#000">OsDUF668-11</text>
<text class="l" transform="translate(1118.7 2122.5) rotate(-45)" font-size="49.5" fill="#000">OsDUF668-12</text>
<text class="l" transform="translate(1258.0 2106.0) rotate(-45)" font-size="49.5" fill="#000">OsDUF668-7</text>
<text class="l" transform="translate(1380.8 2106.0) rotate(-45)" font-size="49.5" fill="#000">OsDUF668-8</text>
<g class="l">
<path d="M1685.1 386.7L1712.3 402.7L1712.3 436.5L1685.1 451.8L1657.4 436.5L1657.4 402.7L1685.1 386.7M1686.1 395.0L1705.9 406.5M1686.1 444.1L1705.9 432.7M1663.8 407.8L1663.8 431.4M1712.3 436.5L1739.4 451.8L1756.3 441.8M1766.5 422.4L1766.5 402.7M1766.5 402.7L1749.3 392.9M1764.6 396.9L1751.8 389.5M1739.1 372.1L1739.1 353.6L1754.4 344.9M1746.3 357.7L1757.6 351.3M1776.7 344.6L1793.3 353.6L1793.3 387.4L1766.5 402.7M1786.9 359.3L1786.9 381.6M1793.3 353.6L1810.5 348.2M1825.8 356.1L1841.7 370.8L1831.5 386.1M1825.2 363.1L1833.4 370.8M1810.5 392.9L1793.3 387.4" fill="none" stroke="#2b2b2b" stroke-width="2.1" stroke-linecap="round" stroke-linejoin="round"/>
<text x="1739.7" y="393.8" font-size="19.5" fill="#2b2b2b" text-anchor="middle">N</text>
<text x="1765.8" y="344.0" font-size="19.5" fill="#2b2b2b" text-anchor="middle">N</text>
<text x="1822.6" y="349.7" font-size="19.5" fill="#2b2b2b" text-anchor="middle">N</text>
<text x="1822.6" y="402.0" font-size="19.5" fill="#2b2b2b" text-anchor="middle">N</text>
<text x="1822.6" y="422.7" font-size="19.5" fill="#2b2b2b" text-anchor="middle">H</text>
<text x="1773.9" y="441.8" font-size="19.5" fill="#2b2b2b" text-anchor="middle">NH</text>
<path d="M1689.0 684.1L1718.4 701.8L1718.4 739.2L1689.0 756.9L1658.4 739.2L1658.4 701.8L1689.0 684.1M1665.1 706.1L1688.4 691.4M1712.9 706.7L1712.9 734.9M1665.1 734.9L1688.4 749.6M1718.4 701.8L1751.4 691.4L1771.6 720.8L1760.6 738.0M1749.6 698.2L1764.9 720.2M1739.2 745.9L1718.4 739.2M1751.4 691.4L1782.0 672.4L1812.6 690.2L1830.4 679.4M1809.6 690.2L1809.6 714.7M1815.7 690.2L1815.7 714.7" fill="none" stroke="#2e2e2e" stroke-width="2.0" stroke-linecap="round" stroke-linejoin="round"/>
<text x="1751.2" y="758.8" font-size="24" fill="#2e2e2e" text-anchor="middle">N</text>
<text x="1751.2" y="780.8" font-size="24" fill="#2e2e2e" text-anchor="middle">H</text>
<text x="1850.0" y="681.1" font-size="24.5" fill="#2e2e2e" text-anchor="middle">OH</text>
<text x="1812.0" y="737.0" font-size="24.5" fill="#2e2e2e" text-anchor="middle">O</text>
<path d="M1679.1 1036.5L1679.1 1005.3L1705.3 991.9L1730.1 1005.3L1730.1 1037.2L1704.0 1049.9L1679.1 1036.5M1684.8 1008.5L1702.7 998.3M1718.0 996.4L1726.9 984.9M1714.2 1002.1L1705.9 1018.7L1699.5 1018.7M1730.1 1005.3L1779.2 1005.3L1779.2 1036.5L1754.4 1049.9L1730.1 1037.2M1779.2 1005.3L1805.4 991.9L1829.6 1005.3L1829.6 1037.2L1805.4 1050.6L1779.2 1036.5M1779.2 1064.6L1829.6 1064.6M1754.4 1082.4L1770.3 1090.1M1754.4 1082.4L1737.8 1091.4M1752.4 1079.3L1736.5 1088.2M1829.6 1064.6L1839.2 1083.1M1832.8 1062.7L1842.4 1081.2" fill="none" stroke="#3a3a3a" stroke-width="1.85" stroke-linecap="round" stroke-linejoin="round"/>
<polygon points="1679.1,1036.5 1661.2,1046.1 1663.8,1049.9" fill="#3a3a3a"/>
<polygon points="1704.0,1049.9 1701.4,1069.7 1706.5,1069.7" fill="#3a3a3a"/>
<polygon points="1730.1,1037.2 1727.6,1055.0 1732.7,1055.0" fill="#3a3a3a"/>
<polygon points="1754.4,1049.9 1751.8,1082.4 1756.9,1082.4" fill="#3a3a3a"/>
<polygon points="1779.2,1005.3 1776.7,984.9 1781.8,984.9" fill="#3a3a3a"/>
<polygon points="1779.2,1036.5 1776.7,1065.2 1781.8,1065.2" fill="#3a3a3a"/>
<polygon points="1829.6,1037.2 1827.1,1065.2 1832.2,1065.2" fill="#3a3a3a"/>
<path d="M1729.7 1000.0L1730.8 1000.0M1729.2 997.2L1731.4 997.3M1728.8 994.4L1732.1 994.5M1728.3 991.7L1732.7 991.8M1727.9 988.9L1733.4 989.1M1727.4 986.1L1734.0 986.4M1702.7 1046.0L1703.8 1046.0M1702.1 1042.7L1704.3 1042.7M1701.4 1039.4L1704.8 1039.3M1700.8 1036.1L1705.3 1036.0M1700.1 1032.8L1705.8 1032.7M1699.5 1029.6L1706.3 1029.4M1698.8 1026.3L1706.8 1026.1M1698.2 1023.0L1707.3 1022.8M1833.0 1039.0L1832.5 1039.8M1836.5 1040.7L1835.3 1042.4M1839.9 1042.5L1838.1 1045.0M1843.3 1044.3L1841.0 1047.6M1846.7 1046.1L1843.8 1050.3" fill="none" stroke="#3a3a3a" stroke-width="1.2" stroke-linecap="round" stroke-linejoin="round"/>
<text x="1730.1" y="981.7" font-size="18.5" fill="#3a3a3a" text-anchor="middle">O</text>
<text x="1688.0" y="1027.6" font-size="18.5" fill="#3a3a3a" text-anchor="middle">O</text>
<text x="1730.1" y="1072.2" font-size="18.5" fill="#3a3a3a" text-anchor="middle">H</text>
<text x="1779.5" y="982.3" font-size="18.5" fill="#3a3a3a" text-anchor="middle">H</text>
<text x="1730.1" y="1102.2" font-size="18.5" fill="#3a3a3a" text-anchor="middle">O</text>
<text x="1635.7" y="1058.2" font-size="18.5" fill="#3a3a3a" text-anchor="start" textLength="24" lengthAdjust="spacingAndGlyphs">HO</text>
<text x="1848.8" y="1058.2" font-size="18.5" fill="#3a3a3a" text-anchor="start" textLength="24" lengthAdjust="spacingAndGlyphs">OH</text>
<text x="1773.5" y="1102.2" font-size="18.5" fill="#3a3a3a" text-anchor="start" textLength="23.6" lengthAdjust="spacingAndGlyphs">OH</text>
<text x="1685.5" y="1087.6" font-size="18.5" fill="#3a3a3a" text-anchor="start">CH<tspan font-size="13" dy="3">3</tspan></text>
<text x="1838.5" y="1098.4" font-size="18.5" fill="#3a3a3a" text-anchor="start">CH<tspan font-size="13" dy="3">2</tspan></text>
<path d="M1706.3 1304.0L1747.1 1325.4L1747.1 1369.8L1706.3 1391.7L1665.5 1369.8L1665.5 1325.4L1706.3 1304.0M1706.8 1310.1L1741.0 1329.0M1671.6 1329.5L1671.6 1366.7M1707.3 1385.6L1741.0 1367.8M1747.1 1325.4L1778.3 1308.1M1747.1 1369.8L1786.9 1391.2L1818.6 1374.4M1784.4 1391.2L1784.4 1426.9M1790.5 1391.2L1790.5 1426.9" fill="none" stroke="#4a4a4a" stroke-width="1.6" stroke-linecap="round" stroke-linejoin="round"/>
<text x="1781.3" y="1308.6" font-size="17" fill="#4a4a4a" text-anchor="start" textLength="21.4" lengthAdjust="spacingAndGlyphs">OH</text>
<text x="1821.6" y="1375.4" font-size="17" fill="#4a4a4a" text-anchor="start" textLength="21.4" lengthAdjust="spacingAndGlyphs">OH</text>
<text x="1786.9" y="1441.2" font-size="17" fill="#4a4a4a" text-anchor="middle">O</text>
<path d="M1702.1 1656.1L1728.9 1674.0L1728.9 1709.7L1702.1 1726.9L1674.6 1709.7L1674.6 1674.0L1702.1 1656.1M1702.7 1721.8L1725.0 1707.8M1686.1 1625.5L1702.1 1656.1L1717.4 1625.5M1728.9 1709.7L1755.6 1727.6M1673.4 1708.4L1651.0 1721.8M1675.9 1712.2L1653.6 1725.6M1728.9 1674.0L1749.9 1688.6M1728.9 1674.0L1756.9 1655.5L1782.4 1673.3L1809.2 1656.1L1835.4 1673.3L1835.4 1709.7L1857.0 1723.7M1757.6 1652.3L1781.8 1669.5M1808.6 1659.9L1832.8 1676.5M1809.2 1656.1L1809.2 1620.4M1835.4 1709.7L1813.7 1723.1M1833.4 1707.1L1811.8 1720.5" fill="none" stroke="#5a5a5a" stroke-width="1.6" stroke-linecap="round" stroke-linejoin="round"/>
<text x="1648.1" y="1732.7" font-size="12.5" fill="#5a5a5a" text-anchor="middle">O</text>
<text x="1808.8" y="1732.7" font-size="12.5" fill="#5a5a5a" text-anchor="middle">O</text>
<text x="1751.2" y="1696.9" font-size="12.5" fill="#5a5a5a" text-anchor="start" textLength="16" lengthAdjust="spacingAndGlyphs">OH</text>
<text x="1859.0" y="1732.0" font-size="12.5" fill="#5a5a5a" text-anchor="start" textLength="15" lengthAdjust="spacingAndGlyphs">OH</text>
</g>
</svg></body></html>
